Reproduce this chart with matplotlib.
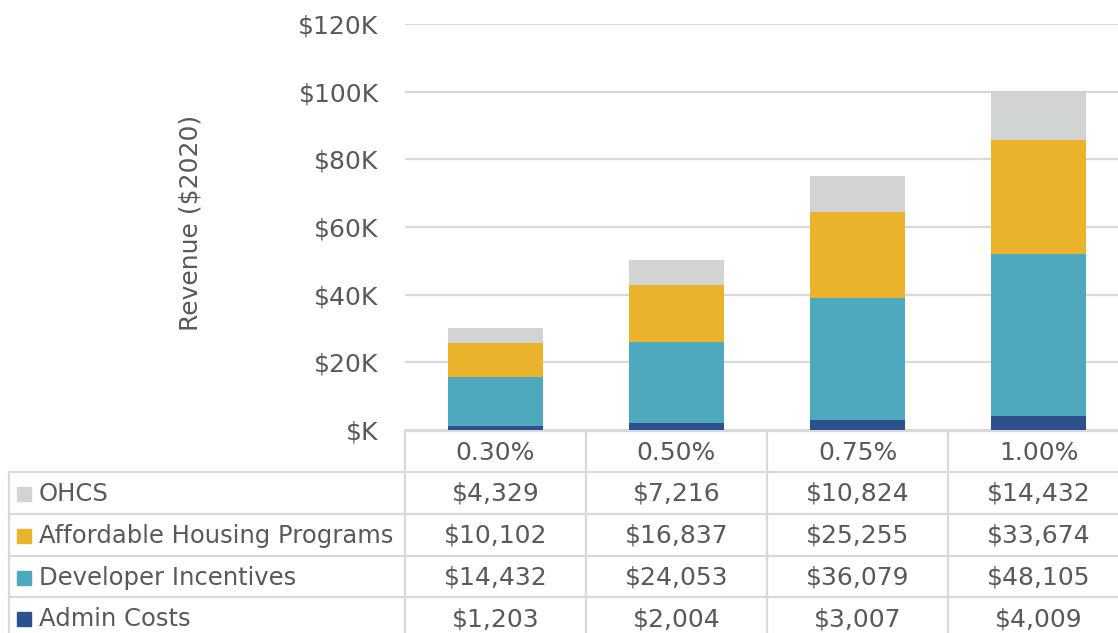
import matplotlib
matplotlib.use("Agg")
import matplotlib.pyplot as plt
import matplotlib.transforms as mtransforms
import numpy as np

# Data
rates = ['0.30%', '0.50%', '0.75%', '1.00%']
series = ['OHCS', 'Affordable Housing Programs', 'Developer Incentives', 'Admin Costs']
ohcs = [4329, 7216, 10824, 14432]
affordable = [10102, 16837, 25255, 33674]
developer = [14432, 24053, 36079, 48105]
admin = [1203, 2004, 3007, 4009]
colors = {'OHCS': '#D2D4D3', 'Affordable Housing Programs': '#EAB32B',
          'Developer Incentives': '#4EA9BF', 'Admin Costs': '#2C518C'}
yticks = [0, 20000, 40000, 60000, 80000, 100000, 120000]

values = {'OHCS': ohcs, 'Affordable Housing Programs': affordable,
          'Developer Incentives': developer, 'Admin Costs': admin}

plt.rcParams['font.family'] = ['DejaVu Sans']
txt = '#595959'
line_c = '#D9D9D9'

W, H = 1118, 633
fig = plt.figure(figsize=(W / 100, H / 100), dpi=100)

# bar chart
ax = fig.add_axes([405 / W, 1 - 430 / H, 724 / W, 406 / H])
x = np.arange(len(rates))
bottom = np.zeros(len(rates))
for name in ['Admin Costs', 'Developer Incentives', 'Affordable Housing Programs', 'OHCS']:
    ax.bar(x, values[name], 0.52, bottom=bottom, color=colors[name], zorder=3)
    bottom += np.array(values[name])

ax.set_xlim(-0.5, len(rates) - 0.5)
ax.set_ylim(0, 120000)
ax.set_yticks(yticks)
ax.set_yticklabels(['$K' if v == 0 else f'${v // 1000}K' for v in yticks],
                   fontsize=18, color=txt)
ax.tick_params(axis='y', length=0, pad=19)
ax.set_xticks([])
ax.grid(axis='y', color=line_c, linewidth=1.6, zorder=0)
for s in ax.spines.values():
    s.set_visible(False)
ax.set_ylabel('Revenue ($2020)', fontsize=18, color=txt)
ax.yaxis.set_label_coords(-(405 - 203) / 724, 0.51)

# data table below the chart
tab = fig.add_axes([0, 0, 1, 1], zorder=-1)
tab.set_xlim(0, W)
tab.set_ylim(H, 0)
tab.axis('off')
bt = mtransforms.blended_transform_factory(ax.transData, tab.transData)

head_top, head_bot, row_h = 431, 472, 41.8
n_rows = len(series)
table_bot = head_bot + row_h * (n_rows + 0.3)

# header lines
tab.plot([-0.5, len(rates) - 0.5], [head_top, head_top], color=line_c, lw=1.6,
         transform=bt, clip_on=False)
for b in np.arange(len(rates) + 1) - 0.5:
    tab.plot([b, b], [head_top, table_bot], color=line_c, lw=1.6, transform=bt, clip_on=False)
# row lines
for i in range(n_rows):
    yy = head_bot + i * row_h
    tab.plot([9, W], [yy, yy], color=line_c, lw=1.6, clip_on=False)
tab.plot([9, 9], [head_bot, table_bot], color=line_c, lw=1.6, clip_on=False)

for j, r in enumerate(rates):
    tab.text(j, (head_top + head_bot) / 2 + 1, r, transform=bt, ha='center', va='center',
             fontsize=18, color=txt)

for i, name in enumerate(series):
    yc = head_bot + (i + 0.5) * row_h + 1
    tab.add_patch(plt.Rectangle((17, yc - 7), 14, 14, color=colors[name]))
    tab.text(39, yc, name, ha='left', va='center', fontsize=17.5, color=txt)
    for j, v in enumerate(values[name]):
        tab.text(j, yc, f'${v:,}', transform=bt, ha='center', va='center',
                 fontsize=18, color=txt)

fig.savefig('out.png', dpi=100)
